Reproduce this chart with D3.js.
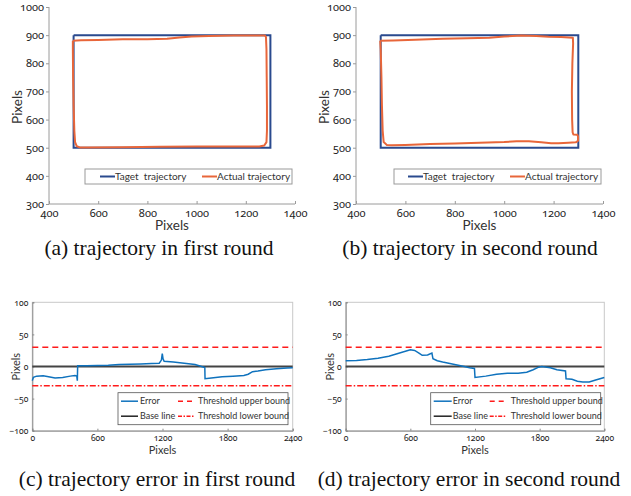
<!DOCTYPE html>
<html>
<head>
<meta charset="utf-8">
<script src="https://cdn.jsdelivr.net/npm/d3@7"></script>
<style>
  body { margin: 0; background: #fff; }
  svg { display: block; }
  .tk text { font-family: "Noto Sans", sans-serif; font-variant-numeric: oldstyle-nums; font-feature-settings: "onum"; fill: #222; }
  .lab { font-family: Lato, sans-serif; fill: #333; }
  .cap { font-family: "Liberation Serif", "Times New Roman", serif; font-size: 21.5px; fill: #111; }
</style>
</head>
<body>
<svg id="fig" width="631" height="496"></svg>
<script>
// ---- data ----
var trajTicksX = [400, 600, 800, 1000, 1200, 1400];
var trajTicksY = [300, 400, 500, 600, 700, 800, 900, 1000];
var errTicksX = [0, 600, 1200, 1800, 2400];
var errTicksY = [-100, -50, 0, 50, 100];

var targetX = [500, 1300, 1300, 500, 500];
var targetY = [900, 900, 500, 500, 900];

var actualAX = [497, 530, 600, 700, 800, 880, 930, 980, 1050, 1150, 1250, 1278, 1282, 1284, 1285, 1286, 1286, 1284, 1275, 1255, 1150, 1000, 850, 700, 560, 525, 513, 506, 503, 500, 498, 497, 497];
var actualAY = [880, 882, 883, 885, 885, 887, 892, 895, 897, 899, 899, 899, 893, 850, 750, 650, 560, 520, 508, 504, 504, 504, 503, 502, 501, 501, 505, 520, 560, 650, 750, 850, 880];

var actualBX = [498, 550, 640, 750, 850, 940, 1000, 1070, 1130, 1180, 1230, 1278, 1279, 1276, 1274, 1275, 1277, 1280, 1296, 1299, 1299, 1290, 1260, 1220, 1190, 1150, 1100, 1050, 1000, 900, 800, 700, 600, 545, 525, 512, 508, 505, 503, 500, 498];
var actualBY = [880, 881, 884, 887, 889, 891, 895, 899, 897, 894, 893, 891, 870, 800, 700, 600, 555, 547, 546, 540, 525, 519, 518, 516, 516, 519, 523, 523, 520, 518, 515, 513, 510, 509, 510, 520, 560, 650, 750, 850, 880];

var errCX = [0, 10, 40, 100, 150, 210, 280, 350, 393, 410, 415, 418, 500, 600, 700, 800, 900, 1000, 1100, 1170, 1190, 1198, 1205, 1215, 1300, 1400, 1500, 1560, 1590, 1592, 1650, 1750, 1850, 1950, 1990, 2030, 2080, 2150, 2250, 2350, 2400];
var errCY = [-22, -17, -15, -14.5, -16, -18, -17, -15, -14, -15, -22, 1, 1.2, 1.5, 2, 3, 3.5, 4, 4.5, 5, 10, 20, 12, 8, 7, 5, 3, 0, -1.5, -19, -18, -16, -15, -14, -12, -8, -7, -5, -3.5, -2.5, -2];

var errDX = [0, 100, 200, 300, 400, 500, 600, 640, 680, 710, 760, 800, 810, 850, 900, 1000, 1100, 1150, 1195, 1200, 1300, 1400, 1500, 1600, 1680, 1740, 1790, 1820, 1900, 1960, 2040, 2045, 2100, 2150, 2200, 2260, 2320, 2400];
var errDY = [9, 9.5, 11, 13, 16, 21, 26, 25, 21, 17.5, 18, 21, 12, 9, 7, 3.5, 0, -2, -3, -17, -15, -12, -10.5, -10.5, -9, -5, -1, 0, -2, -5, -7, -19, -20, -23, -24, -24, -21, -17];

var baseLine = 0, upperBound = 30, lowerBound = -30;

var trajLegend = ["Taget  trajectory", "Actual trajectory"];
var errLegend = ["Error", "Threshold upper bound", "Base line", "Threshold lower bound"];
var captions = ["(a) trajectory in first round", "(b) trajectory in second round",
                "(c) trajectory error in first round", "(d) trajectory error in second round"];

var navy = "#2a4a8e", orange = "#e8663a", errBlue = "#0f72bd", red = "#ff1a1a", grey = "#9a9a9a";

var svg = d3.select("#fig");

function zip(xs, ys) { return xs.map(function(x, i) { return [x, ys[i]]; }); }

// trajectory panel (a / b)
function trajPanel(px, ax, ay, capX, legX, lx) {
  var x = d3.scaleLinear().domain([400, 1400]).range(px);
  var y = d3.scaleLinear().domain([300, 1000]).range([204, 7]);
  var g = svg.append("g");

  var xa = g.append("g").attr("class", "tk").attr("transform", "translate(0,204)")
    .call(d3.axisBottom(x).tickValues(trajTicksX).tickSize(-3).tickPadding(5).tickFormat(d3.format("d")));
  var ya = g.append("g").attr("class", "tk").attr("transform", "translate(" + px[0] + ",0)")
    .call(d3.axisLeft(y).tickValues(trajTicksY).tickSize(3).tickPadding(2).tickFormat(d3.format("d")));
  [xa, ya].forEach(function(a) {
    a.selectAll("path,line").attr("stroke", grey);
    a.selectAll("text").style("font-size", "11px");
  });
  xa.select(".domain").attr("d", "M" + px[0] + ",0H" + px[1]);
  ya.select(".domain").attr("d", "M0,204V7");

  var line = d3.line().x(function(d) { return x(d[0]); }).y(function(d) { return y(d[1]); });
  g.append("path").attr("d", line(zip(targetX, targetY))).attr("fill", "none")
    .attr("stroke", navy).attr("stroke-width", 2);
  g.append("path").attr("d", line(zip(ax, ay))).attr("fill", "none")
    .attr("stroke", orange).attr("stroke-width", 2).attr("stroke-linejoin", "round");

  // legend
  var lg = g.append("g").attr("transform", "translate(" + legX + ",169)");
  lg.append("rect").attr("width", 207).attr("height", 15).attr("fill", "#fff").attr("stroke", grey);
  [navy, orange].forEach(function(c, i) {
    lg.append("line").attr("x1", lx[i]).attr("x2", lx[i] + 15).attr("y1", 7.5).attr("y2", 7.5)
      .attr("stroke", c).attr("stroke-width", 2);
    lg.append("text").attr("class", "lab").attr("x", lx[i] + 15).attr("y", 11.3)
      .style("font-size", "10px").style("white-space", "pre").text(trajLegend[i]);
  });

  g.append("text").attr("class", "lab").attr("x", (px[0] + px[1]) / 2).attr("y", 230)
    .attr("text-anchor", "middle").style("font-size", "13.5px").text("Pixels");
  g.append("text").attr("class", "lab").attr("transform", "translate(" + (px[0] - 27) + ",107)rotate(-90)")
    .attr("text-anchor", "middle").style("font-size", "13.5px").text("Pixels");
  g.append("text").attr("class", "cap").attr("x", capX[0]).attr("y", 255)
    .attr("text-anchor", "middle").text(capX[1]);
}

// error panel (c / d)
function errPanel(px, ex, ey, cap, legX, lx) {
  var x = d3.scaleLinear().domain([0, 2400]).range(px);
  var y = d3.scaleLinear().domain([-100, 100]).range([430.7, 302.3]);
  var g = svg.append("g");

  g.append("rect").attr("x", px[0]).attr("y", 302.3).attr("width", px[1] - px[0]).attr("height", 128.4)
    .attr("fill", "none").attr("stroke", "#c8c8c8");
  var xa = g.append("g").attr("class", "tk").attr("transform", "translate(0,430.7)")
    .call(d3.axisBottom(x).tickValues(errTicksX).tickSize(-2).tickPadding(4).tickFormat(d3.format("d")));
  var ya = g.append("g").attr("class", "tk").attr("transform", "translate(" + px[0] + ",0)")
    .call(d3.axisLeft(y).tickValues(errTicksY).tickSize(-2).tickPadding(4).tickFormat(d3.format("d")));
  [xa, ya].forEach(function(a) {
    a.selectAll("path,line").attr("stroke", "#8a8a8a");
    a.selectAll("text").style("font-size", "8.5px").attr("fill", "#333");
  });

  var line = d3.line().x(function(d) { return x(d[0]); }).y(function(d) { return y(d[1]); });
  g.append("line").attr("x1", x(0)).attr("x2", x(2400)).attr("y1", y(upperBound)).attr("y2", y(upperBound))
    .attr("stroke", red).attr("stroke-width", 1.5).attr("stroke-dasharray", "6,4");
  g.append("line").attr("x1", x(0)).attr("x2", x(2400)).attr("y1", y(lowerBound)).attr("y2", y(lowerBound))
    .attr("stroke", red).attr("stroke-width", 1.5).attr("stroke-dasharray", "6,2,1.5,2");
  g.append("line").attr("x1", x(0)).attr("x2", x(2400)).attr("y1", y(baseLine)).attr("y2", y(baseLine))
    .attr("stroke", "#444").attr("stroke-width", 2);
  g.append("path").attr("d", line(zip(ex, ey))).attr("fill", "none")
    .attr("stroke", errBlue).attr("stroke-width", 1.5);

  // legend
  var lg = g.append("g").attr("transform", "translate(" + legX + ",392.7)");
  lg.append("rect").attr("width", 170).attr("height", 32).attr("fill", "#fff").attr("stroke", "#555").attr("stroke-width", 0.8);
  var styles = [
    { c: errBlue, w: 1.5, d: null },
    { c: red, w: 1.5, d: "5,4" },
    { c: "#222", w: 1.5, d: null },
    { c: red, w: 1.5, d: "4,1.5,1.5,1.5" }
  ];
  styles.forEach(function(s, i) {
    var col = i % 2, row = Math.floor(i / 2);
    var cy = 8.5 + row * 15;
    lg.append("line").attr("x1", lx[col][0]).attr("x2", lx[col][1]).attr("y1", cy).attr("y2", cy)
      .attr("stroke", s.c).attr("stroke-width", s.w).attr("stroke-dasharray", s.d);
    lg.append("text").attr("class", "lab").attr("x", lx[col][2]).attr("y", cy + 3)
      .style("font-size", "9px").text(errLegend[i]);
  });

  g.append("text").attr("class", "lab").attr("x", (px[0] + px[1]) / 2).attr("y", 454)
    .attr("text-anchor", "middle").style("font-size", "11px").text("Pixels");
  g.append("text").attr("class", "lab").attr("transform", "translate(" + (px[0] - 12) + ",366.7)rotate(-90)")
    .attr("text-anchor", "middle").style("font-size", "11px").text("Pixels");
  g.append("text").attr("class", "cap").attr("x", cap[0]).attr("y", 486)
    .attr("text-anchor", "middle").text(cap[1]);
}

trajPanel([49, 295], actualAX, actualAY, [159, captions[0]], 85, [15, 117]);
trajPanel([356, 603], actualBX, actualBY, [470, captions[1]], 394, [14, 116]);
errPanel([32.3, 292.7], errCX, errCY, [157, captions[2]], 118, [[3, 20, 22], [60, 76, 80]]);
errPanel([345.7, 604.3], errDX, errDY, [469, captions[3]], 430.7, [[3, 21, 22], [59, 76, 80]]);
</script>
</body>
</html>
